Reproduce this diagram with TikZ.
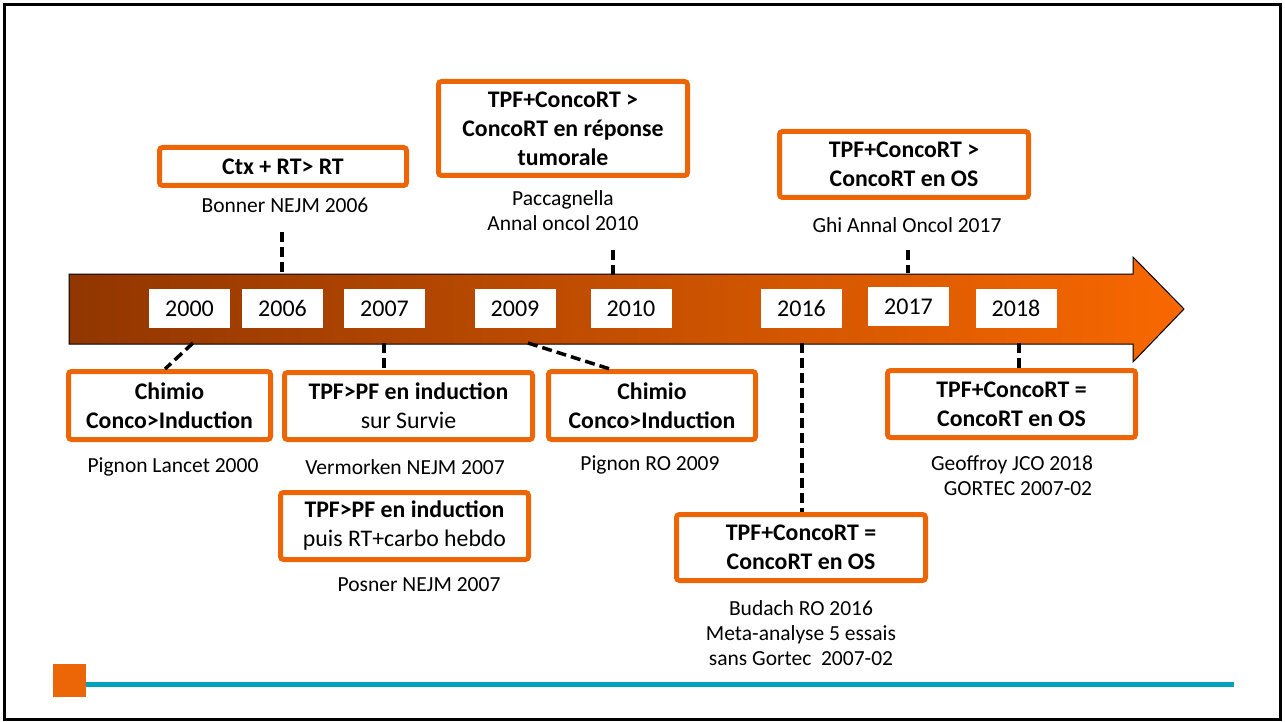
\documentclass[tikz,border=0pt]{standalone}
\usepackage{fontspec}
\setmainfont{Carlito}
\definecolor{boxorange}{HTML}{EC6608}
\definecolor{arrowdark}{HTML}{913600}
\definecolor{arrowlight}{HTML}{F86800}
\definecolor{lineteal}{HTML}{00A2BF}
\begin{document}
\begin{tikzpicture}[x=1pt,y=-1pt,
  event/.style={draw=boxorange, line width=5pt, rounded corners=3pt, fill=white,
    align=center, inner sep=0pt, font=\fontsize{23.8}{29}\selectfont},
  ref/.style={align=center, inner sep=0pt, font=\fontsize{21.5}{25}\selectfont},
  year/.style={fill=white, minimum width=81pt, minimum height=39pt, inner sep=0pt,
    font=\fontsize{24}{28}\selectfont},
  link/.style={line width=3.5pt, dash pattern=on 10pt off 5pt}]
\useasboundingbox (0,0) rectangle (1285,722);

% frame
\draw[line width=2.5pt] (4.5,4.5) rectangle (1280.5,719.5);

% timeline arrow
\path[left color=arrowdark, right color=arrowlight, draw=black, line width=1pt]
  (69,274) -- (1133,274) -- (1133,257) -- (1184,309) -- (1133,362)
  -- (1133,344) -- (69,344) -- cycle;

% years
\node[year] (y2000) at (189.5,308.5) {2000};
\node[year] (y2006) at (282.5,308.5) {2006};
\node[year] (y2007) at (384.5,308.5) {2007};
\node[year] (y2009) at (515,308.5) {2009};
\node[year] (y2010) at (631,308.5) {2010};
\node[year] (y2016) at (801.5,308.5) {2016};
\node[year] (y2017) at (908.5,306.5) {2017};
\node[year] (y2018) at (1016,308.5) {2018};

% events above the timeline
\node[event, minimum width=247pt, minimum height=38pt] (ctx) at (283,166.5)
  {\textbf{Ctx + RT> RT}};
\node[ref] (bonner) at (285,205) {Bonner NEJM 2006};

\node[event, minimum width=249pt, minimum height=94pt] (tpfA) at (563,128.5)
  {\textbf{TPF+ConcoRT >}\\\textbf{ConcoRT en réponse}\\\textbf{tumorale}};
\node[ref] (pacca) at (563,210.5) {Paccagnella\\Annal oncol 2010};

\node[event, minimum width=249pt, minimum height=66pt] (tpfB) at (904,164.5)
  {\textbf{TPF+ConcoRT >}\\\textbf{ConcoRT en OS}};
\node[ref] (ghi) at (907,225) {Ghi Annal Oncol 2017};

% events below the timeline
\node[event, minimum width=202pt, minimum height=68pt] (chimA) at (169.5,405.5)
  {\textbf{Chimio}\\\textbf{Conco>Induction}};
\node[ref] (pigA) at (173,467) {Pignon Lancet 2000};

\node[event, minimum width=248pt, minimum height=67pt] (indA) at (408.5,406)
  {\textbf{TPF>PF en induction}\\sur Survie};
\node[ref] (verm) at (405,467) {Vermorken NEJM 2007};

\node[event, minimum width=248pt, minimum height=67pt] (indB) at (404.5,526)
  {\textbf{TPF>PF en induction}\\puis RT+carbo hebdo};
\node[ref] (posner) at (419,585) {Posner NEJM 2007};

\node[event, minimum width=207pt, minimum height=68pt] (chimB) at (652,405.5)
  {\textbf{Chimio}\\\textbf{Conco>Induction}};
\node[ref] (pigB) at (650,465) {Pignon RO 2009};

\node[event, minimum width=248pt, minimum height=67pt] (eqA) at (1011.5,404)
  {\textbf{TPF+ConcoRT =}\\\textbf{ConcoRT en OS}};
\node[ref] (geof) at (1012,475.5) {Geoffroy JCO 2018\\\hspace*{12pt}GORTEC 2007-02};

\node[event, minimum width=249pt, minimum height=66pt] (eqB) at (801,547.5)
  {\textbf{TPF+ConcoRT =}\\\textbf{ConcoRT en OS}};
\node[ref] (budach) at (801,633)
  {Budach RO 2016\\Meta-analyse 5 essais\\sans Gortec\ \ 2007-02};

% connector end points
\coordinate (t2006) at (282,232);  \coordinate (b2006) at (282,274);
\coordinate (t2010) at (613,250);  \coordinate (b2010) at (613,278);
\coordinate (t2017) at (908,250);  \coordinate (b2017) at (908,273);
\coordinate (c2000) at (193,343);  \coordinate (e2000) at (165,369);
\coordinate (c2007) at (384,343);
\coordinate (c2009) at (528,343);  \coordinate (e2009) at (613,370);
\coordinate (c2016) at (802,343);
\coordinate (c2018) at (1019,343);

% dashed connectors
\draw[link] (t2006) -- (b2006);
\draw[link] (t2010) -- (b2010);
\draw[link] (t2017) -- (b2017);
\draw[link] (c2000) -- (e2000);
\draw[link] (c2007) -- (c2007 |- indA.north);
\draw[link] (c2009) -- (e2009);
\draw[link] (c2016) -- (c2016 |- eqB.north);
\draw[link] (c2018) -- (c2018 |- eqA.north);

% footer
\fill[boxorange] (53,664) rectangle (86,697);
\draw[lineteal, line width=5pt] (86,684) -- (1234,684);
\end{tikzpicture}
\end{document}
